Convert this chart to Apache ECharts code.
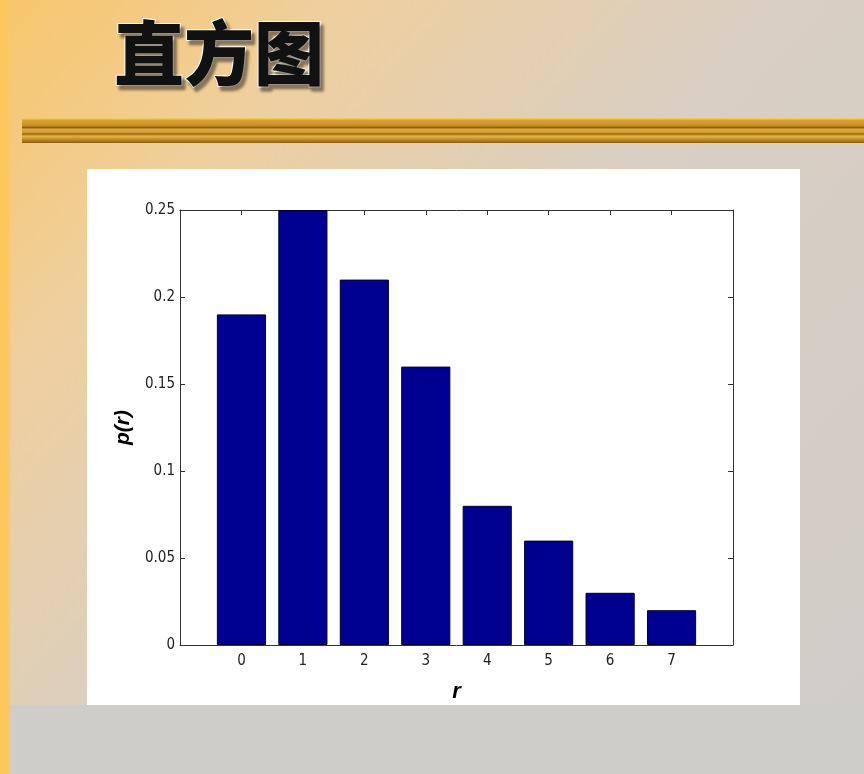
<!DOCTYPE html>
<html>
<head>
<meta charset="utf-8">
<script src="https://cdn.jsdelivr.net/npm/echarts@6/dist/echarts.min.js"></script>
<style>
html,body{margin:0;padding:0;}
#main{width:864px;height:774px;}
</style>
</head>
<body>
<div id="main"></div>
<script>
var titleText = '直方图';
var categories = [0, 1, 2, 3, 4, 5, 6, 7];
var probabilities = [0.19, 0.25, 0.21, 0.16, 0.08, 0.06, 0.03, 0.02];
var xTickLabels = ['0', '1', '2', '3', '4', '5', '6', '7'];
var yTickLabels = ['0', '0.05', '0.1', '0.15', '0.2', '0.25'];
var xAxisName = 'r';
var yAxisName = 'p(r)';

var chart = echarts.init(document.getElementById('main'), null, {renderer: 'canvas'});
var G = echarts.graphic;
var tickFont = "'Liberation Sans Narrow', 'DejaVu Sans Condensed', 'Liberation Sans', sans-serif";

var barData = categories.map(function (c, i) { return [c, probabilities[i]]; });

var option = {
  backgroundColor: new G.LinearGradient(0, 0, 1, 1, [
    {offset: 0, color: '#f8c66a'},
    {offset: 0.22, color: '#efcf9e'},
    {offset: 0.5, color: '#d9cfc3'},
    {offset: 1, color: '#d0ccc8'}
  ]),
  animation: false,
  graphic: [
    {type: 'rect', z: -5, shape: {x: 0, y: 705, width: 864, height: 69}, style: {fill: '#cfcdca'}},
    {type: 'rect', z: -4, shape: {x: 0, y: 0, width: 12, height: 774},
      style: {fill: new G.LinearGradient(0, 0, 1, 0, [
        {offset: 0, color: '#fdc75a'}, {offset: 0.65, color: '#fcc85e'}, {offset: 1, color: 'rgba(240,200,130,0)'}
      ])}},
    {type: 'rect', z: -4, shape: {x: 22, y: 118, width: 842, height: 25},
      style: {fill: new G.LinearGradient(0, 0, 0, 1, [
        {offset: 0, color: '#fbd062'},
        {offset: 0.1, color: '#d9a235'},
        {offset: 0.3, color: '#c98e24'},
        {offset: 0.38, color: '#8f6312'},
        {offset: 0.46, color: '#e3ab3e'},
        {offset: 0.58, color: '#d09a30'},
        {offset: 0.64, color: '#94680f'},
        {offset: 0.72, color: '#e9b446'},
        {offset: 0.86, color: '#c08a26'},
        {offset: 1, color: '#8c5e12'}
      ])}},
    {type: 'text', z: -3, x: 114, y: 18,
      style: {text: titleText, fontSize: 70, fontWeight: 900,
        fontFamily: "'Noto Sans CJK SC', sans-serif", fill: '#111',
        stroke: '#ffffff', lineWidth: 2,
        textShadowColor: 'rgba(60,50,40,0.55)', textShadowOffsetX: 3, textShadowOffsetY: 4, textShadowBlur: 3}},
    {type: 'rect', z: -4, shape: {x: 87, y: 169, width: 713, height: 536}, style: {fill: '#ffffff'}}
  ],
  grid: {left: 180, top: 210, width: 553, height: 435, containLabel: false},
  xAxis: [
    {
      type: 'value', min: -1, max: 8, interval: 1, position: 'bottom',
      name: xAxisName, nameLocation: 'middle', nameGap: 36,
      nameTextStyle: {fontSize: 22, fontWeight: 'bold', fontStyle: 'italic', color: '#000', fontFamily: 'Liberation Sans'},
      axisLine: {show: true, onZero: false, lineStyle: {color: '#333', width: 1}},
      axisTick: {show: true, inside: true, length: 5, lineStyle: {color: '#333'}},
      splitLine: {show: false},
      axisLabel: {show: true, color: '#222', fontSize: 15, fontFamily: tickFont, margin: 9, showMinLabel: false, showMaxLabel: false,
        formatter: function (v) { var i = categories.indexOf(v); return i >= 0 ? xTickLabels[i] : ''; }}
    },
    {
      type: 'value', min: -1, max: 8, interval: 1, position: 'top',
      axisLine: {show: true, onZero: false, lineStyle: {color: '#333', width: 1}},
      axisTick: {show: true, inside: true, length: 5, lineStyle: {color: '#333'}},
      splitLine: {show: false}, axisLabel: {show: false}
    }
  ],
  yAxis: [
    {
      type: 'value', min: 0, max: 0.25, interval: 0.05, position: 'left',
      name: yAxisName, nameLocation: 'middle', nameGap: 43, nameRotate: 90,
      nameTextStyle: {fontSize: 21, fontWeight: 'bold', fontStyle: 'italic', color: '#000', fontFamily: 'Liberation Sans'},
      axisLine: {show: true, onZero: false, lineStyle: {color: '#333', width: 1}},
      axisTick: {show: true, inside: true, length: 5, lineStyle: {color: '#333'}},
      splitLine: {show: false},
      axisLabel: {show: true, color: '#222', fontSize: 15, fontFamily: tickFont, margin: 5,
        formatter: function (v) { var i = Math.round(v / 0.05); return yTickLabels[i] !== undefined ? yTickLabels[i] : ''; }}
    },
    {
      type: 'value', min: 0, max: 0.25, interval: 0.05, position: 'right',
      axisLine: {show: true, onZero: false, lineStyle: {color: '#333', width: 1}},
      axisTick: {show: true, inside: true, length: 5, lineStyle: {color: '#333'}},
      splitLine: {show: false}, axisLabel: {show: false}
    }
  ],
  series: [{
    type: 'bar', xAxisIndex: 0, yAxisIndex: 0,
    data: barData, barWidth: '80%',
    itemStyle: {color: '#000090', borderColor: '#000033', borderWidth: 1}
  }]
};
chart.setOption(option);
</script>
</body>
</html>
